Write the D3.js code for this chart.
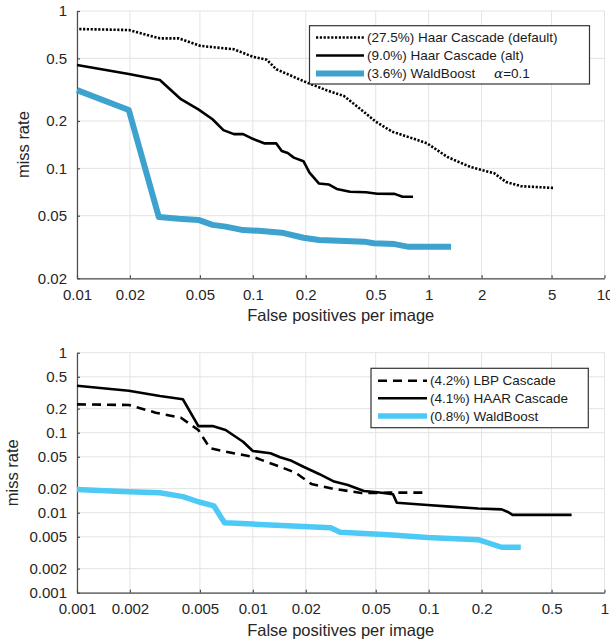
<!DOCTYPE html>
<html>
<head>
<meta charset="utf-8">
<script src="https://cdn.jsdelivr.net/npm/d3@7"></script>
<style>
  body { margin: 0; background: #fff; }
  svg { font-family: "Liberation Sans", Arial, sans-serif; }
  .tick text { fill: #262626; font-size: 15px; }
  .grid line { stroke: #e3e3e3; stroke-width: 1; }
</style>
</head>
<body>
<svg id="chart" width="610" height="642"></svg>
<script>
if(!d3){
    throw new Error("d3 failed to load");
}

// --- top panel data ---
const haarDefaultFp   = [0.0103, 0.0197, 0.0296, 0.038, 0.0505, 0.078, 0.1, 0.12, 0.136, 0.204, 0.262, 0.33, 0.415, 0.5, 0.62, 0.81, 0.98, 1.28, 1.73, 2.36, 2.75, 3.35, 5.2];
const haarDefaultMiss = [0.768, 0.757, 0.67, 0.67, 0.60, 0.571, 0.512, 0.49, 0.426, 0.35, 0.314, 0.288, 0.235, 0.198, 0.171, 0.155, 0.144, 0.118, 0.102, 0.093, 0.082, 0.077, 0.075];

const haarAltFp   = [0.01, 0.0197, 0.0296, 0.039, 0.049, 0.059, 0.068, 0.078, 0.088, 0.1, 0.117, 0.136, 0.146, 0.158, 0.171, 0.194, 0.21, 0.238, 0.27, 0.3, 0.357, 0.44, 0.51, 0.64, 0.71, 0.815];
const haarAltMiss = [0.454, 0.398, 0.364, 0.275, 0.237, 0.205, 0.175, 0.165, 0.165, 0.154, 0.144, 0.144, 0.129, 0.125, 0.117, 0.111, 0.094, 0.08, 0.079, 0.074, 0.071, 0.0705, 0.069, 0.0688, 0.066, 0.066];

const waldTopFp   = [0.01, 0.0197, 0.0292, 0.038, 0.049, 0.059, 0.07, 0.088, 0.108, 0.146, 0.194, 0.238, 0.43, 0.487, 0.64, 0.77, 1.34];
const waldTopMiss = [0.314, 0.235, 0.049, 0.0478, 0.047, 0.0437, 0.0426, 0.0405, 0.0401, 0.039, 0.0362, 0.035, 0.0342, 0.0334, 0.033, 0.0317, 0.0317];

const topXTicks = [0.01, 0.02, 0.05, 0.1, 0.2, 0.5, 1, 2, 5, 10];
const topYTicks = [0.02, 0.05, 0.1, 0.2, 0.5, 1];
const topLegend = ["(27.5%) Haar Cascade (default)", "(9.0%) Haar Cascade (alt)", "(3.6%) WaldBoost"];

// --- bottom panel data ---
const lbpFp   = [0.001, 0.00197, 0.0028, 0.0039, 0.0049, 0.0057, 0.007, 0.01, 0.0143, 0.0175, 0.0215, 0.0277, 0.0415, 0.0592, 0.0963];
const lbpMiss = [0.226, 0.222, 0.178, 0.154, 0.108, 0.064, 0.058, 0.05, 0.0375, 0.0316, 0.0229, 0.0202, 0.0176, 0.0178, 0.0178];

const haarFp   = [0.001, 0.00197, 0.00296, 0.004, 0.0049, 0.0059, 0.007, 0.0088, 0.01, 0.0126, 0.0143, 0.0166, 0.0194, 0.0238, 0.029, 0.0347, 0.0428, 0.0511, 0.0627, 0.0659, 0.0985, 0.133, 0.191, 0.26, 0.28, 0.30, 0.65];
const haarMiss = [0.387, 0.335, 0.288, 0.262, 0.121, 0.121, 0.108, 0.077, 0.059, 0.0553, 0.0494, 0.0445, 0.0375, 0.0305, 0.0245, 0.0222, 0.0187, 0.018, 0.017, 0.0133, 0.0125, 0.0119, 0.0113, 0.011, 0.0103, 0.0094, 0.0094];

const waldBotFp   = [0.001, 0.00197, 0.00296, 0.004, 0.0049, 0.006, 0.0069, 0.01, 0.0194, 0.0277, 0.0314, 0.0592, 0.0985, 0.191, 0.26, 0.334];
const waldBotMiss = [0.0195, 0.0183, 0.0178, 0.0159, 0.0137, 0.0122, 0.0075, 0.0072, 0.0067, 0.0065, 0.0057, 0.0053, 0.0049, 0.0046, 0.0037, 0.0037];

const botXTicks = [0.001, 0.002, 0.005, 0.01, 0.02, 0.05, 0.1, 0.2, 0.5, 1];
const botYTicks = [0.001, 0.002, 0.005, 0.01, 0.02, 0.05, 0.1, 0.2, 0.5, 1];
const botLegend = ["(4.2%) LBP Cascade", "(4.1%) HAAR Cascade", "(0.8%) WaldBoost"];

const svg = d3.select("#chart");
const fmt = (v) => String(v);

const panel = (opt) => {
    const x = d3.scaleLog().domain(opt.xDomain).range([77, 604.5]);
    const y = d3.scaleLog().domain(opt.yDomain).range([opt.bottom, opt.top]);
    const g = svg.append("g");

    // grid
    const grid = g.append("g").attr("class", "grid");
    grid.selectAll(".gx").data(opt.xTicks).join("line")
        .attr("x1", d => x(d)).attr("x2", d => x(d))
        .attr("y1", opt.top).attr("y2", opt.bottom);
    grid.selectAll(".gy").data(opt.yTicks).join("line")
        .attr("y1", d => y(d)).attr("y2", d => y(d))
        .attr("x1", 77).attr("x2", 604.5);

    // axes, MATLAB style: ticks inside
    const ax = g.append("g").attr("transform", `translate(0,${opt.bottom})`)
        .call(d3.axisBottom(x).tickValues(opt.xTicks).tickFormat(fmt)
            .tickSizeInner(-3).tickSizeOuter(0).tickPadding(11));
    const ay = g.append("g").attr("transform", "translate(77,0)")
        .call(d3.axisLeft(y).tickValues(opt.yTicks).tickFormat(fmt)
            .tickSizeInner(-3).tickSizeOuter(0).tickPadding(10));
    [ax, ay].forEach(a => {
        a.attr("font-family", null).attr("font-size", null);
        a.select(".domain").attr("stroke", "#4d4d4d").attr("stroke-width", 1.2);
        a.selectAll(".tick line").attr("stroke", "#4d4d4d").attr("stroke-width", 1.2);
    });

    // axis titles
    g.append("text")
        .attr("x", (77 + 604.5) / 2).attr("y", opt.bottom + 43)
        .attr("text-anchor", "middle").attr("font-size", 16.5).attr("fill", "#262626")
        .text("False positives per image");
    g.append("text")
        .attr("transform", `translate(${opt.ylabelX},${(opt.top + opt.bottom) / 2}) rotate(-90)`)
        .attr("text-anchor", "middle").attr("font-size", 16.5).attr("fill", "#262626")
        .text("miss rate");

    // curves
    const line = d3.line().x(d => x(d[0])).y(d => y(d[1]));
    opt.series.forEach(s => {
        g.append("path")
            .datum(d3.zip(s.fp, s.miss))
            .attr("d", line)
            .attr("fill", "none")
            .attr("stroke", s.color)
            .attr("stroke-width", s.width)
            .attr("stroke-dasharray", s.dash || null)
            .attr("stroke-linejoin", "round");
    });

    // legend
    const L = opt.legend;
    g.append("rect")
        .attr("x", L.x).attr("y", L.y).attr("width", L.w).attr("height", L.h)
        .attr("fill", "#fff").attr("stroke", "#333").attr("stroke-width", 1.2);
    opt.series.forEach((s, i) => {
        const yy = L.rows[i];
        g.append("line")
            .attr("x1", L.lx1).attr("x2", L.lx2).attr("y1", yy).attr("y2", yy)
            .attr("stroke", s.color).attr("stroke-width", s.width)
            .attr("stroke-dasharray", s.dash || null);
        const t = g.append("text")
            .attr("x", L.tx).attr("y", yy).attr("dy", "0.35em")
            .attr("font-size", 13.5).attr("fill", "#1a1a1a")
            .text(L.labels[i]);
        if(s.extra){
            const e = g.append("text")
                .attr("x", s.extra.x).attr("y", yy).attr("dy", "0.35em")
                .attr("font-size", 13.5).attr("fill", "#1a1a1a");
            e.append("tspan").attr("font-family", "DejaVu Serif, serif")
                .attr("font-style", "italic").text("α");
            e.append("tspan").text("=0.1");
        }
    });
};

panel({
    xDomain: [0.01, 10], yDomain: [0.02, 1],
    top: 11, bottom: 278.3, ylabelX: 29,
    xTicks: topXTicks, yTicks: topYTicks,
    series: [
        {fp: haarDefaultFp, miss: haarDefaultMiss, color: "#000", width: 2.6, dash: "2.2,1.6"},
        {fp: haarAltFp, miss: haarAltMiss, color: "#000", width: 2.6},
        {fp: waldTopFp, miss: waldTopMiss, color: "#3ea2cf", width: 6, extra: {x: 494}}
    ],
    legend: {x: 309.5, y: 25.7, w: 280, h: 58.3, lx1: 316, lx2: 364, tx: 367,
             rows: [37.5, 55.5, 73.5], labels: topLegend}
});

panel({
    xDomain: [0.001, 1], yDomain: [0.001, 1],
    top: 352.7, bottom: 592.7, ylabelX: 18,
    xTicks: botXTicks, yTicks: botYTicks,
    series: [
        {fp: lbpFp, miss: lbpMiss, color: "#000", width: 2.6, dash: "9,6"},
        {fp: haarFp, miss: haarMiss, color: "#000", width: 2.6},
        {fp: waldBotFp, miss: waldBotMiss, color: "#4dc9f6", width: 5.5}
    ],
    legend: {x: 371, y: 368.3, w: 217.3, h: 59.4, lx1: 378, lx2: 427, tx: 430,
             rows: [380.7, 398.3, 416], labels: botLegend}
});
</script>
</body>
</html>
